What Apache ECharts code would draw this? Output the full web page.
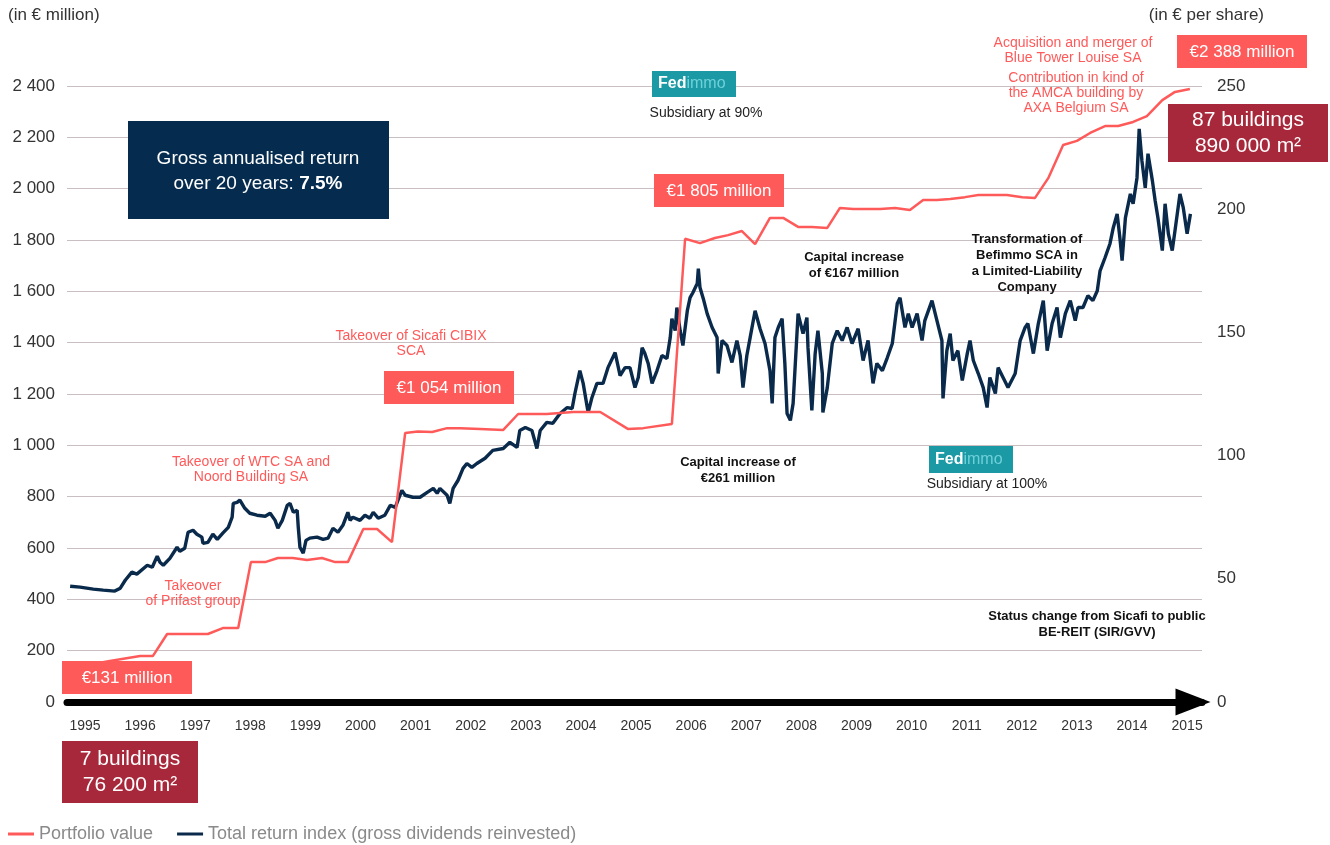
<!DOCTYPE html>
<html>
<head>
<meta charset="utf-8">
<script src="https://cdn.jsdelivr.net/npm/echarts@6/dist/echarts.min.js"></script>
<style>
html,body{margin:0;padding:0;background:#fff;}
#chart{width:1330px;height:845px;}
</style>
</head>
<body>
<div id="chart"></div>
<script>
// ---------- DATA ----------
const yearTicks = [1995,1996,1997,1998,1999,2000,2001,2002,2003,2004,2005,2006,2007,2008,2009,2010,2011,2012,2013,2014,2015];

const seriesNames = ['Portfolio value', 'Total return index (gross dividends reinvested)'];

// Portfolio value (in € million), [year, value]
const portfolioValue = [
[1994.69,131],[1995.45,160],[1996.00,179],[1996.23,179],[1996.49,265],[1997.23,265],[1997.50,288],[1997.78,288],
[1998.01,545],[1998.27,545],[1998.50,561],[1998.77,561],[1999.03,553],[1999.30,561],[1999.54,545],[1999.77,545],
[2000.05,674],[2000.30,674],[2000.57,623],[2000.81,1048],[2001.04,1054],[2001.30,1052],[2001.57,1067],[2001.81,1067],
[2002.17,1064],[2002.59,1060],[2002.86,1122],[2003.38,1122],[2003.86,1130],[2004.35,1130],[2004.85,1064],[2005.13,1067],
[2005.65,1083],[2005.89,1805],[2006.16,1788],[2006.43,1808],[2006.67,1819],[2006.92,1835],[2007.16,1784],[2007.43,1886],
[2007.67,1886],[2007.94,1851],[2008.19,1851],[2008.47,1847],[2008.70,1925],[2008.94,1921],[2009.19,1921],[2009.43,1921],
[2009.70,1925],[2009.97,1917],[2010.21,1956],[2010.46,1956],[2010.70,1960],[2010.97,1967],[2011.21,1975],[2011.48,1975],
[2011.73,1975],[2012.01,1967],[2012.24,1964],[2012.48,2041],[2012.75,2170],[2013.00,2186],[2013.24,2217],[2013.51,2244],
[2013.75,2244],[2014.02,2260],[2014.27,2283],[2014.55,2345],[2014.78,2377],[2015.05,2388]
];

// Total return index (in € per share), [year, value]
const totalReturn = [
[1994.73,47.0],[1994.91,46.6],[1995.15,45.8],[1995.33,45.4],[1995.54,45.0],[1995.64,46.2],[1995.73,49.4],[1995.85,52.7],
[1995.94,51.9],[1996.13,55.5],[1996.22,54.7],[1996.31,59.2],[1996.36,56.7],[1996.42,55.5],[1996.54,58.3],[1996.67,62.8],
[1996.72,61.2],[1996.81,62.4],[1996.87,68.9],[1996.96,69.7],[1997.03,68.1],[1997.12,66.9],[1997.14,64.4],[1997.23,64.8],
[1997.32,68.1],[1997.40,66.0],[1997.50,68.5],[1997.60,70.9],[1997.67,75.0],[1997.69,80.6],[1997.76,81.0],[1997.81,81.9],
[1997.90,78.6],[1997.99,76.6],[1998.12,75.8],[1998.27,75.4],[1998.36,76.6],[1998.45,73.7],[1998.50,70.5],[1998.58,73.7],
[1998.67,79.8],[1998.72,80.6],[1998.78,77.0],[1998.85,77.8],[1998.87,70.9],[1998.90,62.8],[1998.96,60.4],[1999.01,65.6],
[1999.08,66.5],[1999.21,66.9],[1999.32,66.0],[1999.41,66.5],[1999.50,70.5],[1999.59,68.9],[1999.68,71.7],[1999.77,77.0],
[1999.81,73.7],[1999.86,75.0],[1999.99,73.7],[2000.08,75.8],[2000.17,74.6],[2000.23,77.0],[2000.32,74.6],[2000.44,75.8],
[2000.54,79.8],[2000.63,79.0],[2000.68,81.9],[2000.75,85.9],[2000.81,83.9],[2000.95,83.1],[2001.08,83.1],[2001.21,85.1],
[2001.32,86.7],[2001.39,84.7],[2001.44,86.7],[2001.57,83.9],[2001.62,80.6],[2001.68,86.7],[2001.77,90.0],[2001.86,94.8],
[2001.93,96.8],[2002.02,95.2],[2002.11,96.8],[2002.26,98.9],[2002.40,102.1],[2002.59,102.9],[2002.71,105.4],[2002.84,103.3],
[2002.89,110.2],[2002.99,111.4],[2003.11,110.2],[2003.20,102.9],[2003.26,110.2],[2003.38,113.5],[2003.49,113.1],[2003.62,117.1],
[2003.75,119.5],[2003.84,119.1],[2003.89,125.2],[2003.98,134.5],[2004.04,129.3],[2004.13,117.5],[2004.20,123.6],[2004.29,129.3],
[2004.40,129.3],[2004.49,135.7],[2004.62,141.8],[2004.71,132.5],[2004.80,135.7],[2004.89,135.7],[2004.98,127.6],[2005.04,131.7],
[2005.11,143.8],[2005.16,141.4],[2005.22,137.4],[2005.29,129.3],[2005.38,134.5],[2005.47,140.6],[2005.56,139.4],[2005.62,147.9],
[2005.65,155.6],[2005.71,150.7],[2005.74,160.1],[2005.80,150.7],[2005.85,144.7],[2005.93,158.8],[2005.98,164.1],[2006.03,166.1],
[2006.11,169.8],[2006.13,175.9],[2006.16,168.2],[2006.22,163.7],[2006.29,157.6],[2006.38,152.0],[2006.47,147.9],[2006.49,133.3],
[2006.56,146.7],[2006.65,144.7],[2006.74,137.8],[2006.83,146.7],[2006.89,140.6],[2006.94,127.6],[2007.01,140.6],[2007.07,147.9],
[2007.16,158.8],[2007.25,151.5],[2007.34,145.5],[2007.43,134.5],[2007.47,121.2],[2007.52,147.9],[2007.58,152.0],[2007.65,155.6],
[2007.70,137.4],[2007.74,117.1],[2007.80,114.3],[2007.85,121.2],[2007.94,157.6],[2008.03,149.5],[2008.10,156.0],[2008.12,143.8],
[2008.19,118.3],[2008.25,141.4],[2008.30,150.7],[2008.38,133.3],[2008.39,117.5],[2008.47,127.6],[2008.56,145.5],[2008.65,150.7],
[2008.74,146.7],[2008.83,152.0],[2008.92,145.5],[2009.03,151.5],[2009.12,138.6],[2009.21,146.7],[2009.30,129.3],[2009.37,137.4],
[2009.47,134.5],[2009.56,139.8],[2009.65,145.5],[2009.74,161.7],[2009.79,164.1],[2009.88,152.0],[2009.94,157.6],[2010.01,152.0],
[2010.10,157.6],[2010.19,146.7],[2010.24,154.8],[2010.37,162.9],[2010.46,154.8],[2010.55,146.7],[2010.57,123.2],[2010.64,142.6],
[2010.70,149.5],[2010.75,138.6],[2010.84,142.6],[2010.92,130.5],[2011.01,141.4],[2011.06,146.7],[2011.12,138.6],[2011.21,133.3],
[2011.30,127.6],[2011.37,119.5],[2011.42,131.7],[2011.52,125.2],[2011.57,135.7],[2011.66,131.7],[2011.75,127.6],[2011.88,133.3],
[2011.97,146.7],[2012.06,152.0],[2012.11,153.6],[2012.21,141.4],[2012.30,153.6],[2012.39,162.9],[2012.46,142.6],[2012.55,153.6],
[2012.64,160.1],[2012.70,147.9],[2012.79,157.6],[2012.88,162.9],[2012.97,154.8],[2013.02,160.1],[2013.11,160.1],[2013.20,164.9],
[2013.29,162.9],[2013.37,166.9],[2013.42,175.0],[2013.51,180.3],[2013.60,186.0],[2013.66,192.5],[2013.73,198.1],[2013.78,188.4],
[2013.82,179.1],[2013.88,196.5],[2013.97,206.2],[2014.02,202.2],[2014.09,212.7],[2014.13,232.6],[2014.18,219.6],[2014.24,208.7],
[2014.29,222.5],[2014.37,211.5],[2014.42,203.4],[2014.47,196.5],[2014.55,183.2],[2014.60,202.2],[2014.66,190.0],[2014.73,183.2],
[2014.78,191.3],[2014.87,206.2],[2014.93,200.6],[2015.00,190.0],[2015.06,198.1]
];

// ---------- STYLE ----------
const FONT = '"Liberation Sans", Arial, Helvetica, sans-serif';
const RED = '#ff5a5a';
const NAVY = '#0a2a4c';
const DARKRED = '#a8283b';
const BOXNAVY = '#052c4f';
const TEAL = '#1b9aa6';

function fmtThousands(v) {
  if (v >= 1000) { return Math.floor(v / 1000) + ' ' + String(v % 1000).padStart(3, '0'); }
  return String(v);
}

function txt(x, y, text, opts) {
  opts = opts || {};
  return {
    type: 'text', x: x, y: y, z: 100,
    style: {
      text: text,
      fill: opts.fill || '#222',
      font: (opts.weight || 'normal') + ' ' + (opts.size || 13) + 'px ' + FONT,
      align: opts.align || 'center',
      verticalAlign: 'middle',
      lineHeight: opts.lineHeight || 15,
      rich: opts.rich
    }
  };
}
function box(x, y, w, h, fill) {
  return { type: 'rect', z: 90, shape: { x: x, y: y, width: w, height: h }, style: { fill: fill } };
}

const graphics = [
  txt(8, 15, '(in € million)', { align: 'left', size: 17, fill: '#333' }),
  txt(1264, 15, '(in € per share)', { align: 'right', size: 17, fill: '#333' }),

  box(128, 121, 261, 98, BOXNAVY),
  txt(258, 159, 'Gross annualised return', { size: 19, fill: '#fff' }),
  txt(258, 184, '{n|over 20 years: }{b|7.5%}', { size: 19, fill: '#fff', rich: {
    n: { fill: '#fff', font: 'normal 19px ' + FONT },
    b: { fill: '#fff', font: 'bold 19px ' + FONT } } }),

  box(654, 174, 130, 33, RED), txt(719, 191, '€1 805 million', { size: 17, fill: '#fff' }),
  box(384, 371, 130, 33, RED), txt(449, 388, '€1 054 million', { size: 17, fill: '#fff' }),
  box(62, 661, 130, 33, RED), txt(127, 678, '€131 million', { size: 17, fill: '#fff' }),
  box(1177, 35, 130, 33, RED), txt(1242, 52, '€2 388 million', { size: 17, fill: '#fff' }),

  box(1168, 104, 160, 58, DARKRED), txt(1248, 133, '87 buildings\n890 000 m²', { size: 21, fill: '#fff', lineHeight: 26 }),
  box(62, 741, 136, 62, DARKRED), txt(130, 772, '7 buildings\n76 200 m²', { size: 21, fill: '#fff', lineHeight: 26 }),

  box(652, 71, 84, 26, TEAL),
  txt(658, 84, '{f|Fed}{i|immo}', { align: 'left', rich: {
    f: { fill: '#ffffff', font: 'bold 16px ' + FONT },
    i: { fill: '#6fd0d8', font: 'normal 16px ' + FONT } } }),
  txt(706, 113, 'Subsidiary at 90%', { size: 14, fill: '#222' }),

  box(929, 446, 84, 27, TEAL),
  txt(935, 460, '{f|Fed}{i|immo}', { align: 'left', rich: {
    f: { fill: '#ffffff', font: 'bold 16px ' + FONT },
    i: { fill: '#6fd0d8', font: 'normal 16px ' + FONT } } }),
  txt(987, 484, 'Subsidiary at 100%', { size: 14, fill: '#222' }),

  txt(411, 344, 'Takeover of Sicafi CIBIX\nSCA', { size: 14, fill: RED }),
  txt(251, 470, 'Takeover of WTC SA and\nNoord Building SA', { size: 14, fill: RED }),
  txt(193, 594, 'Takeover\nof Prifast group', { size: 14, fill: RED }),
  txt(1073, 51, 'Acquisition and merger of\nBlue Tower Louise SA', { size: 14, fill: RED }),
  txt(1076, 93, 'Contribution in kind of\nthe AMCA building by\nAXA Belgium SA', { size: 14, fill: RED }),

  txt(854, 265, 'Capital increase\nof €167 million', { size: 13, weight: 'bold', fill: '#111', lineHeight: 16 }),
  txt(738, 470, 'Capital increase of\n€261 million', { size: 13, weight: 'bold', fill: '#111', lineHeight: 16 }),
  txt(1027, 263, 'Transformation of\nBefimmo SCA in\na Limited-Liability\nCompany', { size: 13, weight: 'bold', fill: '#111', lineHeight: 16 }),
  txt(1097, 624, 'Status change from Sicafi to public\nBE-REIT (SIR/GVV)', { size: 13, weight: 'bold', fill: '#111', lineHeight: 16 })
];

const chart = echarts.init(document.getElementById('chart'), null, { renderer: 'canvas' });
chart.setOption({
  animation: false,
  backgroundColor: '#fff',
  textStyle: { fontFamily: FONT },
  grid: { left: 67, right: 128, top: 86, bottom: 143 },
  legend: {
    data: seriesNames,
    left: 3, top: 820,
    icon: 'rect', itemWidth: 26, itemHeight: 3, itemGap: 24,
    textStyle: { fontSize: 18, color: '#8a8a8a', fontFamily: FONT }
  },
  xAxis: {
    type: 'value', min: 1994.673, max: 2015.27,
    splitLine: { show: false },
    axisTick: { show: false },
    axisLine: {
      show: true, onZero: false,
      lineStyle: { color: '#000', width: 7 },
      symbol: ['none', 'triangle'], symbolSize: [27, 35], symbolOffset: [0, -9]
    },
    axisLabel: {
      customValues: yearTicks,
      formatter: v => String(Math.round(v)),
      fontSize: 14, color: '#333', margin: 17
    }
  },
  yAxis: [
    {
      type: 'value', min: 0, max: 2400, interval: 200,
      axisLine: { show: false }, axisTick: { show: false },
      splitLine: { lineStyle: { color: '#c9bec2', width: 1.2 } },
      axisLabel: { formatter: fmtThousands, fontSize: 17, color: '#333', margin: 12 }
    },
    {
      type: 'value', min: 0, max: 250, interval: 50, position: 'right',
      axisLine: { show: false }, axisTick: { show: false },
      splitLine: { show: false },
      axisLabel: { fontSize: 17, color: '#333', margin: 15 }
    }
  ],
  series: [
    {
      name: seriesNames[1], type: 'line', yAxisIndex: 1, data: totalReturn,
      showSymbol: false, symbol: 'none', lineStyle: { color: NAVY, width: 3.4 }, itemStyle: { color: NAVY }, z: 3
    },
    {
      name: seriesNames[0], type: 'line', yAxisIndex: 0, data: portfolioValue,
      showSymbol: false, symbol: 'none', lineStyle: { color: RED, width: 2.5 }, itemStyle: { color: RED }, z: 4
    }
  ],
  graphic: graphics
});
</script>
</body>
</html>
